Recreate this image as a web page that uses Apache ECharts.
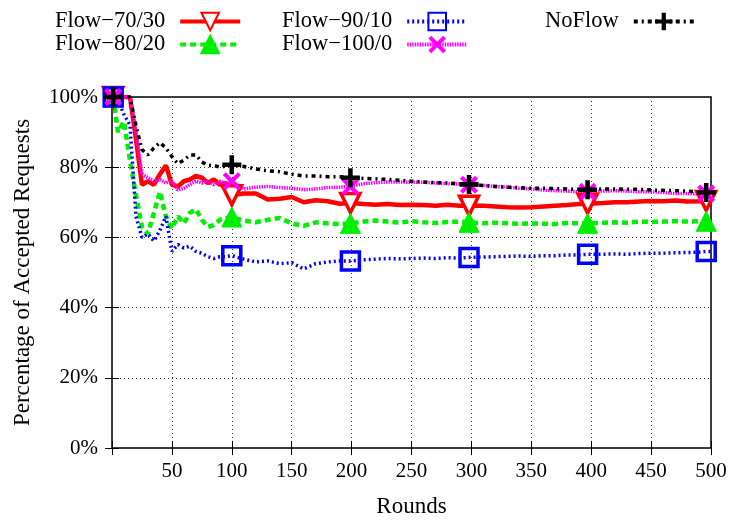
<!DOCTYPE html>
<html>
<head>
<meta charset="utf-8">
<script src="https://cdn.jsdelivr.net/npm/echarts@6/dist/echarts.min.js"></script>
<style>
  html, body { margin: 0; padding: 0; background: #fff; }
  #chart { width: 730px; height: 523px; }
</style>
</head>
<body>
<div id="chart"></div>
<script>
const rounds = [1, 5, 10, 15, 20, 25, 30, 35, 40, 45, 50, 55, 60, 65, 70, 75, 80, 85, 90, 95, 100,
  110, 120, 130, 140, 150, 160, 170, 180, 190, 199,
  210, 220, 230, 240, 250, 260, 270, 280, 290, 298,
  310, 320, 330, 340, 350, 360, 370, 380, 390, 397,
  410, 420, 430, 440, 450, 460, 470, 480, 490, 496, 500];
// rounds that carry a point marker
const markerRounds = [1, 100, 199, 298, 397, 496];
const xTicks = [50, 100, 150, 200, 250, 300, 350, 400, 450, 500];

const flow7030 = [100, 100, 100, 100, 88, 75, 76, 75, 78, 80.5, 75, 74.5, 76, 76.5, 77.5, 77, 75.5, 76.5, 75, 75.5, 72,
  72.5, 72.5, 70.8, 71, 71.5, 70, 70.6, 70.3, 69.6, 69.8,
  69.5, 69.3, 69.5, 69.2, 69.3, 69.2, 69, 69.3, 69, 69,
  69, 68.8, 68.6, 68.5, 68.6, 68.8, 69, 69.2, 69.5, 69.6,
  69.8, 70, 70, 70.2, 70.4, 70.3, 70.5, 70.2, 70.3, 70.4, 70.3];
const flow8020 = [100, 90, 93, 82, 72, 63, 61, 67, 73, 66, 62.5, 66, 64, 67, 68, 65, 63, 63.5, 65, 65.5, 65.8,
  64.8, 64.3, 65, 65.5, 64, 63.3, 64.3, 64, 63.8, 64,
  64.5, 64.8, 64.5, 64.2, 64.6, 64.3, 64.1, 64.4, 64.5, 64.3,
  64, 64.2, 64, 63.9, 64, 63.9, 63.8, 64.1, 64, 64,
  64.2, 64.3, 64.2, 64.5, 64.4, 64.5, 64.6, 64.5, 64.6, 64.6, 64.6];
const flow9010 = [100, 99, 95, 92, 66, 60, 61, 59, 62, 66, 56, 58, 57, 57.5, 56, 55.5, 54.5, 54, 54.5, 54.5, 54.8,
  53.8, 53, 53.3, 52.5, 52.8, 51, 52.5, 53, 53.3, 53.3,
  53.6, 53.8, 54, 53.9, 54, 54.1, 54, 54.2, 54.1, 54.3,
  54.4, 54.5, 54.6, 54.7, 54.6, 54.8, 54.8, 55, 55, 55.2,
  55.2, 55.3, 55.2, 55.4, 55.5, 55.5, 55.6, 55.7, 55.8, 56, 56];
const flow1000 = [100, 100, 100, 100, 90, 78, 77, 76, 76.5, 75.5, 76, 73.5, 74, 75, 76, 75.5, 76, 75, 76, 75.5, 76,
  73.8, 74.3, 74.5, 74.2, 74, 73.6, 73.8, 74.2, 74.3, 74.5,
  75.3, 75.6, 75.8, 75.8, 75.7, 75.7, 75.5, 75.3, 75.2, 75,
  74.8, 74.5, 74.3, 74, 73.8, 73.5, 73.3, 73.2, 73, 73,
  73.2, 73.3, 73.2, 73, 73, 72.8, 72.5, 72.5, 72.3, 72.5, 72];
const noFlow = [100, 100, 100, 100, 92, 85, 83.5, 85.5, 87, 85.5, 83, 81, 82, 83.5, 83.5, 81.5, 80.5, 80.5, 80, 80.3, 80.7,
  80.2, 79.5, 79, 78.7, 78, 77.5, 77.5, 77.3, 77.3, 77,
  76.8, 76.7, 76.5, 76.3, 76, 75.8, 75.6, 75.5, 75.3, 75.1,
  74.8, 74.5, 74.3, 74.2, 74, 74, 73.9, 73.8, 73.7, 73.6,
  73.8, 73.8, 73.7, 73.7, 73.5, 73.4, 73.3, 73.2, 73, 72.8, 72.8];

const FONT = 'Liberation Serif';
const plusPath = 'path://M3.8,0H6.2V3.8H10V6.2H6.2V10H3.8V6.2H0V3.8H3.8Z';
const crossPath = 'path://M0,1.6L1.6,0L5,3.4L8.4,0L10,1.6L6.6,5L10,8.4L8.4,10L5,6.6L1.6,10L0,8.4L3.4,5Z';

const zip = vals => rounds.map((r, i) => [r, vals[i]]);
const markSize = s => (v => markerRounds.includes(v[0]) ? s : 0);

const chart = echarts.init(document.getElementById('chart'), null, {renderer: 'canvas'});

const legendText = {fontFamily: FONT, fontSize: 22.5, color: '#000', padding: [0, 10, 0, 0]};
const legendBase = {
  orient: 'vertical', align: 'right', top: 5, itemGap: 0,
  itemWidth: 60, itemHeight: 22, textStyle: legendText, selectedMode: false,
  symbolRotate: 'inherit',
  lineStyle: {width: 4}
};

const axisTick = {inside: true, length: 7, lineStyle: {color: '#000', width: 1}};

const option = {
  animation: false,
  backgroundColor: '#fff',
  grid: {left: 112, right: 19, top: 97, bottom: 73, show: true, borderColor: '#000', borderWidth: 1.5},
  legend: [
    Object.assign({}, legendBase, {left: 50, data: ['Flow\u221270/30', 'Flow\u221280/20']}),
    Object.assign({}, legendBase, {left: 277, data: ['Flow\u221290/10', 'Flow\u2212100/0']}),
    Object.assign({}, legendBase, {left: 540, data: ['NoFlow']})
  ],
  xAxis: [{
    type: 'value', min: 0, max: 500, interval: 50,
    name: 'Rounds', nameLocation: 'middle', nameGap: 47,
    nameTextStyle: {fontFamily: FONT, fontSize: 23, color: '#000'},
    axisLine: {show: false},
    axisTick: axisTick,
    axisLabel: {fontFamily: FONT, fontSize: 21, color: '#000', margin: 13,
      formatter: v => xTicks.includes(v) ? String(v) : ''},
    splitLine: {show: true, lineStyle: {color: '#333', type: [1, 3], width: 1}}
  }, {
    type: 'value', min: 0, max: 500, interval: 50, position: 'top',
    axisLine: {show: false}, axisTick: axisTick, axisLabel: {show: false}, splitLine: {show: false}
  }],
  yAxis: [{
    type: 'value', min: 0, max: 100, interval: 20,
    name: 'Percentage of Accepted Requests', nameLocation: 'middle', nameGap: 78,
    nameTextStyle: {fontFamily: FONT, fontSize: 23, color: '#000'},
    axisLine: {show: false},
    axisTick: axisTick,
    axisLabel: {fontFamily: FONT, fontSize: 21, color: '#000', margin: 14, formatter: '{value}%'},
    splitLine: {show: true, lineStyle: {color: '#333', type: [1, 3], width: 1}}
  }, {
    type: 'value', min: 0, max: 100, interval: 20, position: 'right',
    axisLine: {show: false}, axisTick: axisTick, axisLabel: {show: false}, splitLine: {show: false}
  }],
  series: [
    {
      name: 'Flow\u221270/30', type: 'line', data: zip(flow7030),
      symbol: 'triangle', symbolRotate: 180, symbolSize: markSize(19), showAllSymbol: true,
      lineStyle: {color: '#ff0000', width: 4.5, type: 'solid'},
      itemStyle: {color: '#ffffff', borderColor: '#ff0000', borderWidth: 3.5}
    },
    {
      name: 'Flow\u221280/20', type: 'line', data: zip(flow8020),
      symbol: 'triangle', symbolSize: markSize(20), showAllSymbol: true,
      lineStyle: {color: '#00ee00', width: 4.5, type: [6, 4]},
      itemStyle: {color: '#00ee00', borderColor: '#00ee00', borderWidth: 1}
    },
    {
      name: 'Flow\u221290/10', type: 'line', data: zip(flow9010),
      symbol: 'rect', symbolSize: markSize(18), showAllSymbol: true,
      lineStyle: {color: '#0000ff', width: 3.5, type: [2, 3]},
      itemStyle: {color: 'rgba(255,255,255,0)', borderColor: '#0000ff', borderWidth: 3.5}
    },
    {
      name: 'Flow\u2212100/0', type: 'line', data: zip(flow1000),
      symbol: crossPath, symbolSize: markSize(18), showAllSymbol: true,
      lineStyle: {color: '#ff00ff', width: 3.5, type: [1.5, 1]},
      itemStyle: {color: '#ff00ff'}
    },
    {
      name: 'NoFlow', type: 'line', data: zip(noFlow),
      symbol: plusPath, symbolSize: markSize(19), showAllSymbol: true,
      lineStyle: {color: '#000000', width: 3.5, type: [4, 4, 2, 4]},
      itemStyle: {color: '#000000'}
    }
  ]
};

chart.setOption(option);
</script>
</body>
</html>
